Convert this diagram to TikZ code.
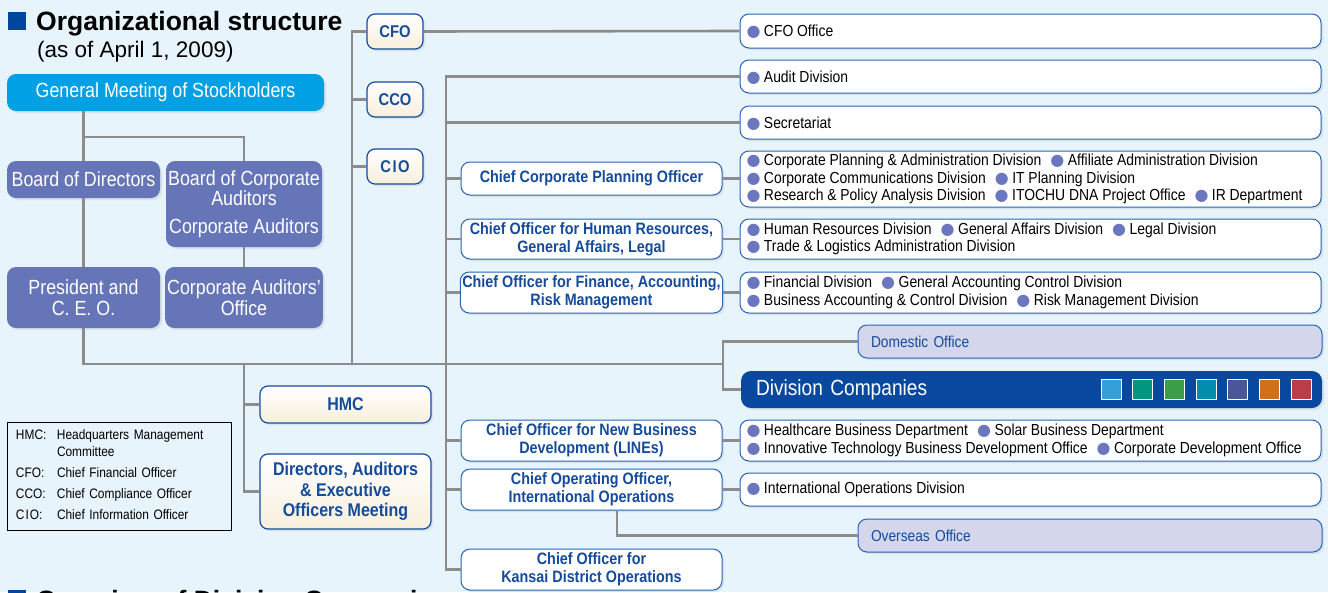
\documentclass[tikz,border=0pt]{standalone}
\usepackage{fontspec}
\setmainfont{Liberation Sans}[FakeStretch=0.87]
\newfontfamily\titlefont{Liberation Sans}
\newfontfamily\symfont{DejaVu Sans}
\usetikzlibrary{positioning, calc, shadows}
\definecolor{bgblue}{RGB}{231,244,252}
\definecolor{gmblue}{RGB}{0,160,228}
\definecolor{purplec}{RGB}{102,117,183}
\definecolor{boxblue}{RGB}{40,100,180}
\definecolor{darkblue}{RGB}{20,75,160}
\definecolor{textblue}{RGB}{20,75,155}
\definecolor{creamc}{RGB}{248,239,220}
\definecolor{lavender}{RGB}{212,214,236}
\definecolor{navyc}{RGB}{8,72,158}
\definecolor{dotblue}{RGB}{106,118,190}
\definecolor{linegray}{RGB}{140,140,140}
\definecolor{titleblue}{RGB}{0,70,160}
\definecolor{sqa}{RGB}{52,160,215}
\definecolor{sqb}{RGB}{0,150,128}
\definecolor{sqc}{RGB}{60,157,74}
\definecolor{sqd}{RGB}{0,142,175}
\definecolor{sqe}{RGB}{74,86,150}
\definecolor{sqf}{RGB}{210,112,24}
\definecolor{sqg}{RGB}{190,60,72}
\newcommand{\bul}{\smash{\color{dotblue}\symfont ●}\hspace{3.5pt}}
\newcommand{\sep}{\hspace{9pt}}

\begin{document}
\begin{tikzpicture}[x=1pt, y=-1pt,
    conn/.style={draw=linegray, line width=2.6pt},
    shade/.style={drop shadow={opacity=0.15, shadow xshift=2pt, shadow yshift=-2pt}},
    gm/.style={shade, fill=gmblue, text=white, rounded corners=9pt, minimum width=317, minimum height=37,
        font=\fontsize{20.5}{22}\selectfont},
    purplebox/.style={shade, fill=purplec, text=white, rounded corners=9pt, minimum width=153, inner sep=2pt,
        align=center, font=\fontsize{20.5}{20.5}\selectfont},
    cxo/.style={shade, top color=white, bottom color=creamc, draw=darkblue, line width=1.2pt, rounded corners=8pt,
        minimum width=56, minimum height=35, text=textblue, font=\bfseries\fontsize{17}{18}\selectfont},
    meet/.style={cxo, minimum width=171, align=center, font=\bfseries\fontsize{18.4}{20.5}\selectfont},
    officer/.style={shade, fill=white, draw=boxblue, line width=1pt, rounded corners=9pt, minimum width=261,
        inner sep=2pt, text=textblue, align=center, font=\bfseries\fontsize{16.5}{18}\selectfont},
    divbox/.style={shade, fill=white, draw=boxblue, line width=1pt, rounded corners=9pt, text width=568,
        inner xsep=6.5pt, inner ysep=2pt, align=left, font=\fontsize{16}{17.5}\selectfont,
        execute at begin node={\hyphenpenalty=10000\exhyphenpenalty=10000\spaceskip=3.8pt plus 1pt minus 0.5pt}},
    office/.style={shade, fill=lavender, draw=boxblue, line width=1pt, rounded corners=9pt, text width=438,
        inner xsep=13pt, minimum height=33, text=textblue, align=left, font=\fontsize{15.8}{17}\selectfont}]
\useasboundingbox (0,0) rectangle (1328,592);
\clip (0,0) rectangle (1328,592);
\fill[bgblue] (0,0) rectangle (1328,592);

\fill[titleblue] (8,12) rectangle (26,29.5);
\node[anchor=base west, inner sep=0, font=\titlefont\bfseries\fontsize{26.5}{30}\selectfont] (title) at (36,30) {Organizational structure};
\node[anchor=base west, inner sep=0, font=\titlefont\fontsize{22.5}{26}\selectfont] (asof) at (37,57) {(as of April 1, 2009)};
\fill[titleblue] (8,590) rectangle (26,608);
\node[anchor=base west, inner sep=0, font=\titlefont\bfseries\fontsize{26.5}{30}\selectfont] (overview) at (36,609) {Overview of Division Companies};

\node[gm] (gms) at (165.5,92.5) {General Meeting of Stockholders};
\node[purplebox, minimum height=37] (bod) at (83.5,179.5) {Board of Directors};
\node[purplebox, minimum width=156, minimum height=86] (bca) at (244,204) {Board of Corporate\\Auditors\\[7pt]Corporate Auditors};
\node[purplebox, minimum height=61] (pres) at (83.5,297.5) {President and\\C. E. O.};
\node[purplebox, minimum width=156, minimum height=61] (cao) at (244,297.5) {Corporate Auditors’\\Office};

\node[cxo] (cfo) at (395,31.5) {CFO};
\node[cxo] (cco) at (395,99.5) {CCO};
\node[cxo] (cio) at (395,166.5) {C\kern1.5pt I\kern1.5pt O};
\node[meet, minimum height=37] (hmc) at (345.5,404.5) {HMC};
\node[meet, minimum height=75] (daem) at (345.5,491.5) {Directors, Auditors\\\& Executive\\Officers Meeting};

\node[draw=black, line width=0.8pt, text width=206, inner xsep=9pt, minimum height=108, align=left,
    font=\fontsize{13.7}{17}\selectfont] (legend) at (119,476)
    {\begin{tabular}{@{}p{41pt}@{}l@{}}
    HMC: & Headquarters Management\\
         & Committee\\[4pt]
    CFO: & Chief Financial Officer\\[4pt]
    CCO: & Chief Compliance Officer\\[4pt]
    C\kern1pt I\kern1pt O: & Chief Information Officer
    \end{tabular}};

\node[officer, minimum height=33] (cpo) at (591.5,178.5) {Chief Corporate Planning Officer};
\node[officer, minimum height=40] (hrl) at (591.5,239) {Chief Officer for Human Resources,\\General Affairs, Legal};
\node[officer, minimum height=41] (fin) at (591.5,292.5) {Chief Officer for Finance, Accounting,\\Risk Management};
\node[officer, minimum height=41] (nbd) at (591.5,440.5) {Chief Officer for New Business\\Development (LINEs)};
\node[officer, minimum height=41] (coo) at (591.5,489.5) {Chief Operating Officer,\\International Operations};
\node[officer, minimum height=41] (kansai) at (591.5,569.5) {Chief Officer for\\Kansai District Operations};

\node[divbox, minimum height=34] (cfooff) at (1030.5,31) {\bul CFO Office};
\node[divbox, minimum height=33] (audit) at (1030.5,76.5) {\bul Audit Division};
\node[divbox, minimum height=33] (secr) at (1030.5,122.5) {\bul Secretariat};
\node[divbox, minimum height=56] (cpdiv) at (1030.5,179) {\bul Corporate Planning \& Administration Division\sep\bul Affiliate Administration Division\\
    \bul Corporate Communications Division\sep\bul IT Planning Division\\
    \bul Research \& Policy Analysis Division\sep\bul ITOCHU DNA Project Office\sep\bul IR Department};
\node[divbox, minimum height=40] (hrdiv) at (1030.5,239) {\bul Human Resources Division\sep\bul General Affairs Division\sep\bul Legal Division\\
    \bul Trade \& Logistics Administration Division};
\node[divbox, minimum height=41] (findiv) at (1030.5,292.5) {\bul Financial Division\sep\bul General Accounting Control Division\\
    \bul Business Accounting \& Control Division\sep\bul Risk Management Division};
\node[office] (dom) at (1090,341.5) {Domestic Office};
\node[shade, fill=navyc, text=white, rounded corners=10pt, minimum height=37, text width=551, inner xsep=15pt,
    align=left, font=\fontsize{22}{24}\selectfont] (divco) at (1031.5,389.5) {Division Companies};
\foreach \c [count=\i] in {sqa, sqb, sqc, sqd, sqe, sqf, sqg}
    \draw[fill=\c, draw=white, line width=0.8pt] (1101+31.7*\i-31.7,379) rectangle ++(20,20);
\node[divbox, minimum height=41] (nbdiv) at (1030.5,440.5) {\bul Healthcare Business Department\sep\bul Solar Business Department\\
    \bul Innovative Technology Business Development Office\sep\bul Corporate Development Office};
\node[divbox, minimum height=33] (iodiv) at (1030.5,489.5) {\bul International Operations Division};
\node[office] (ovs) at (1090,535.5) {Overseas Office};

\draw[conn] (bod.north |- gms.south) -- (bod.north);
\draw[conn] (bod.north |- 0,137) -| (bca.north);
\draw[conn] (bod.south) -- (pres.north);
\draw[conn] (bca.south) -- (cao.north);
\coordinate (rail) at (723,364);
\draw[conn] (pres.south) |- (rail);
\draw[conn] (dom.west) -| (rail) |- (divco.west);
\coordinate (cxorail) at (352,364);
\draw[conn] (cfo.west) -| (cxorail);
\draw[conn] (cco.west) -- (cco.west -| cxorail);
\draw[conn] (cio.west) -- (cio.west -| cxorail);
\draw[conn] (cfo.east) -- (cfooff.west);
\coordinate (offrail) at (446,569.5);
\draw[conn] (audit.west) -| (offrail) -- (kansai.west);
\foreach \n in {secr, cpo, hrl, fin, nbd, coo}
    \draw[conn] (\n.west) -- (\n.west -| offrail);
\coordinate (mtgrail) at (244,364);
\draw[conn] (mtgrail) |- (daem.west);
\draw[conn] (hmc.west) -- (hmc.west -| mtgrail);
\foreach \a/\b in {cpo/cpdiv, hrl/hrdiv, fin/findiv, nbd/nbdiv, coo/iodiv}
    \draw[conn] (\a.east) -- (\a.east -| \b.west);
\draw[conn] ($(coo.south)+(25.5,0)$) |- (ovs.west);
\end{tikzpicture}
\end{document}
